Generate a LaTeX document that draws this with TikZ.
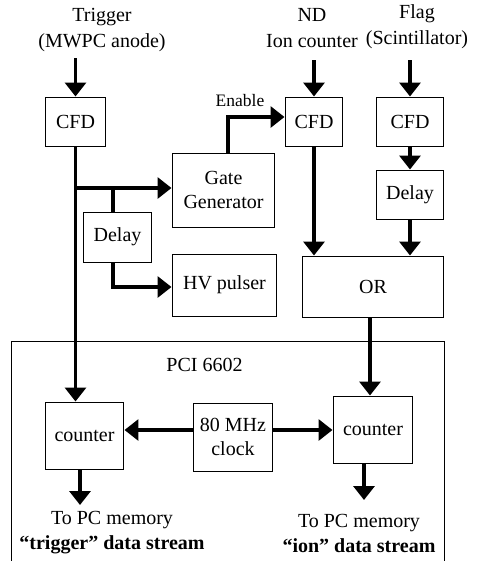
\documentclass[tikz,border=0pt]{standalone}
\usepackage{fontspec}
\setmainfont{Liberation Serif}
\usepackage{tikz}
\usetikzlibrary{arrows.meta, positioning}

\begin{document}
\begin{tikzpicture}[
    x=0.6pt, y=-0.6pt,
    block/.style={
        draw=black,
        line width=0.6pt,
        inner sep=0pt,
        align=center,
        font=\fontsize{12}{14}\selectfont
    },
    txt/.style={align=center, inner sep=0pt, font=\fontsize{12}{15.6}\selectfont},
    wire/.style={line width=2pt},
    sig/.style={wire, -{Triangle[length=8.4pt, width=12.6pt]}}
]
\useasboundingbox (0,0) rectangle (477,561);

\draw[line width=0.6pt] (11,561) -- (11,341) -- (444,341) -- (444,561);

\node[txt] (trig) at (102,30) {Trigger\\(MWPC anode)};
\node[txt] (nd) at (312,28) {ND\\Ion counter};
\node[txt] (flag) at (417,27) {Flag\\(Scintillator)};

\node[block, minimum width=36.6pt, minimum height=29.4pt] (cfdA) at (75.5,121.5) {CFD};
\node[block, minimum width=34.8pt, minimum height=29.4pt] (cfdB) at (314,121.5) {CFD};
\node[block, minimum width=40.8pt, minimum height=29.4pt] (cfdC) at (410,121.5) {CFD};
\node[block, minimum width=61.8pt, minimum height=44.4pt] (gate) at (223.5,190) {Gate\\Generator};
\node[block, minimum width=41.4pt, minimum height=30pt] (delayA) at (117.5,237) {Delay};
\node[block, minimum width=40.8pt, minimum height=29.4pt] (delayB) at (410,194.5) {Delay};
\node[block, minimum width=63pt, minimum height=37.2pt] (hv) at (224.5,285) {HV pulser};
\node[block, minimum width=85.2pt, minimum height=36.6pt] (or) at (373,286.5) {OR};

\node[txt] (pci) at (204.5,365) {PCI 6602};
\node[block, minimum width=47.4pt, minimum height=40.2pt] (cntA) at (84.5,435.5) {counter};
\node[block, minimum width=48pt, minimum height=40.8pt] (clock) at (233,437) {80 MHz\\clock};
\node[block, minimum width=48pt, minimum height=40.2pt] (cntB) at (373,429.5) {counter};

\node[txt, font=\fontsize{10.5}{12}\selectfont] (enable) at (240,101) {Enable};
\node[txt, baseline, font=\fontsize{12}{15}\selectfont] (memA) at (112,532.5) {To PC memory\\\textbf{“trigger” data stream}};
\node[txt, font=\fontsize{12}{15}\selectfont] (memB) at (359,533.5) {To PC memory\\\textbf{“ion” data stream}};

\coordinate (trigIn) at (75.5,58);
\coordinate (ndIn) at (314,60);
\coordinate (flagIn) at (410,60);
\coordinate (brA) at (75.5,188);
\coordinate (brB) at (113,188);
\coordinate (outA) at (80,505);
\coordinate (outB) at (364,500);

\draw[sig] (trigIn) -- (cfdA.north);
\draw[sig] (ndIn) -- (cfdB.north);
\draw[sig] (flagIn) -- (cfdC.north);
\draw[sig] (cfdA.south) -- (cfdA.south |- cntA.north);
\draw[sig] (brA) -- (brA -| gate.west);
\draw[wire] (brB) -- (brB |- delayA.north);
\draw[sig] (brB |- delayA.south) |- ([yshift=-1.2pt]hv.west);
\draw[sig] ([xshift=2.7pt]gate.north) |- ([yshift=2.7pt]cfdB.west);
\draw[sig] (cfdC) -- (delayB);
\draw[sig] (cfdB.south) -- (cfdB.south |- or.north);
\draw[sig] (delayB.south) -- (delayB.south |- or.north);
\draw[sig] ([xshift=-1.8pt]or.south) -- ([xshift=-1.8pt]cntB.north);
\draw[sig] ([yshift=4.2pt]clock.west) -- ([yshift=4.2pt]clock.west -| cntA.east);
\draw[sig] ([yshift=4.2pt]clock.east) -- ([yshift=4.2pt]clock.east -| cntB.west);
\draw[sig] (cntA.south -| outA) -- (outA);
\draw[sig] (cntB.south -| outB) -- (outB);

\end{tikzpicture}
\end{document}
